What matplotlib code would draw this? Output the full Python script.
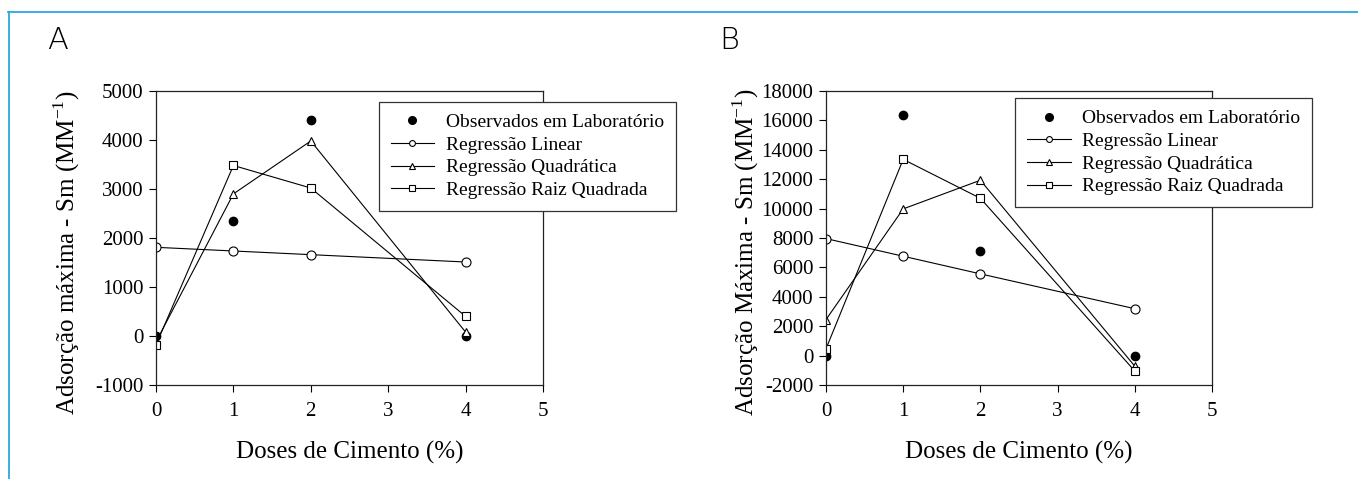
#!/usr/bin/env python3
"""Adsorção máxima (Sm) em função das doses de cimento: observados x regressões."""
import matplotlib
matplotlib.use("Agg")
import matplotlib.pyplot as plt
from matplotlib.lines import Line2D

plt.rcParams["font.family"] = ["Liberation Serif", "DejaVu Serif"]
plt.rcParams["mathtext.fontset"] = "custom"
plt.rcParams["mathtext.rm"] = "Liberation Serif"
plt.rcParams["axes.unicode_minus"] = False

doses = [0, 1, 2, 4]

# painel A
obs_a = [0, 2350, 4400, 0]
lin_a = [1810, 1735, 1660, 1510]
quad_a = [-120, 2900, 3980, 80]
raiz_a = [-180, 3480, 3020, 400]

# painel B
obs_b = [0, 16350, 7100, 0]
lin_b = [7960, 6760, 5560, 3190]
quad_b = [2450, 9980, 11930, -720]
raiz_b = [460, 13350, 10700, -1050]

x_ticks = [0, 1, 2, 3, 4, 5]
y_ticks_a = list(range(-1000, 5001, 1000))
y_ticks_b = list(range(-2000, 18001, 2000))

labels = ["Observados em Laboratório", "Regressão Linear",
          "Regressão Quadrática", "Regressão Raiz Quadrada"]

W, H = 1358, 479
fig = plt.figure(figsize=(W / 100, H / 100), dpi=100)


def px(x0, y0, x1, y1):
    return [x0 / W, 1 - y1 / H, (x1 - x0) / W, (y1 - y0) / H]


def panel(rect, obs, lin, quad, raiz, yticks, ylabel, leg_anchor, lab_x):
    ax = fig.add_axes(rect)
    line_kw = dict(color="black", lw=0.8, mfc="white", mec="black", mew=0.8)
    ax.plot(doses, obs, ls="none", marker="o", ms=6, color="black",
            label=labels[0])
    ax.plot(doses, lin, marker="o", ms=6.5, label=labels[1], **line_kw)
    ax.plot(doses, quad, marker="^", ms=6.3, label=labels[2], **line_kw)
    ax.plot(doses, raiz, marker="s", ms=5.8, label=labels[3], **line_kw)

    ax.set_xlim(0, 5)
    ax.set_ylim(yticks[0], yticks[-1])
    ax.set_xticks(x_ticks)
    ax.set_yticks(yticks)
    ax.tick_params(direction="out", length=5, width=0.8, labelsize=15,
                   pad=4, colors="black")
    ax.tick_params(axis="x", pad=7)
    for s in ax.spines.values():
        s.set_linewidth(0.9)
        s.set_color("#222222")

    ax.set_xlabel("Doses de Cimento (%)", fontsize=18)
    ax.xaxis.set_label_coords(0.5, -0.19)
    ax.set_ylabel(ylabel, fontsize=18)
    ax.yaxis.set_label_coords(lab_x, 0.45)

    leg = ax.legend(loc="upper left", bbox_to_anchor=leg_anchor,
                    borderaxespad=0, fontsize=14, frameon=True,
                    fancybox=False, edgecolor="#333333", framealpha=1,
                    handlelength=2.25, handletextpad=0.6, labelspacing=0.26,
                    borderpad=0.6)
    leg.get_frame().set_linewidth(0.9)
    # símbolos da legenda menores que os do gráfico
    for h, ms in zip(leg.legend_handles, [5.5, 4.2, 4.2, 4.0]):
        h.set_markersize(ms)
    return ax


ax_a = panel(px(156, 91, 543, 385), obs_a, lin_a, quad_a, raiz_a, y_ticks_a,
             "Adsorção máxima - Sm (MM$^{\\mathrm{-1}}$)",
             (0.576, 0.963), -0.192)
ax_b = panel(px(826, 91, 1212, 385), obs_b, lin_b, quad_b, raiz_b, y_ticks_b,
             "Adsorção Máxima - Sm (MM$^{\\mathrm{-1}}$)",
             (0.49, 0.976), -0.168)

# letras dos painéis
for lx, letter in [(47, "A"), (719, "B")]:
    fig.text(lx / W, 1 - 49 / H, letter, fontsize=22, fontweight=200,
             family=["DejaVu Sans", "Noto Sans"], ha="left", va="baseline")

# moldura azul (topo e lado esquerdo)
blue = "#2aa8e0"
fig.add_artist(Line2D([8 / W, 1], [1 - 12 / H, 1 - 12 / H], color=blue,
                      lw=1.3, transform=fig.transFigure))
fig.add_artist(Line2D([9 / W, 9 / W], [0, 1 - 12 / H], color=blue,
                      lw=1.3, transform=fig.transFigure))

fig.savefig("out.png", dpi=100)
